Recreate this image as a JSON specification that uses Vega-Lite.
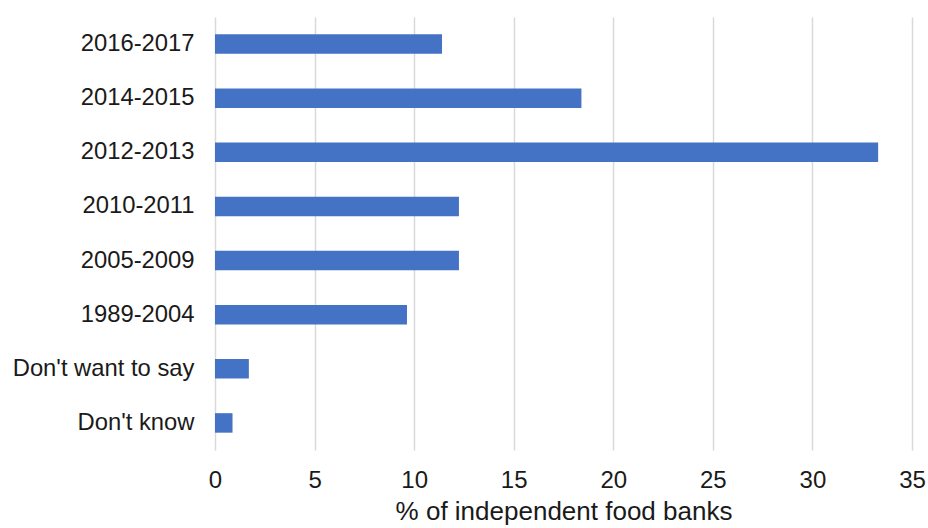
{
  "$schema": "https://vega.github.io/schema/vega-lite/v6.json",
  "width": 697,
  "height": 433,
  "autosize": {"type": "none"},
  "padding": {"left": 215, "top": 17, "right": 16, "bottom": 78},
  "background": "white",
  "config": {"view": {"stroke": null}, "font": "Arial"},
  "data": {
    "values": [
      {"period": "2016-2017", "pct": 11.4},
      {"period": "2014-2015", "pct": 18.4},
      {"period": "2012-2013", "pct": 33.3},
      {"period": "2010-2011", "pct": 12.25},
      {"period": "2005-2009", "pct": 12.25},
      {"period": "1989-2004", "pct": 9.64},
      {"period": "Don't want to say", "pct": 1.7},
      {"period": "Don't know", "pct": 0.88}
    ]
  },
  "mark": {"type": "bar", "color": "#4472C4"},
  "encoding": {
    "y": {
      "field": "period",
      "type": "nominal",
      "sort": null,
      "scale": {"paddingInner": 0.64, "paddingOuter": 0.32},
      "axis": {
        "title": null,
        "domain": false,
        "ticks": false,
        "labelFontSize": 23.8,
        "labelLimit": 300,
        "labelColor": "#1a1a1a",
        "labelPadding": 21,
        "labelFont": "Arial"
      }
    },
    "x": {
      "field": "pct",
      "type": "quantitative",
      "scale": {"domain": [0, 35], "nice": false},
      "axis": {
        "title": "% of independent food banks",
        "titleFontSize": 26,
        "titleFontWeight": "normal",
        "titleColor": "#1a1a1a",
        "titlePadding": 6,
        "titleFont": "Arial",
        "values": [0, 5, 10, 15, 20, 25, 30, 35],
        "domain": false,
        "ticks": false,
        "labelFlush": false,
        "labelFontSize": 24,
        "labelColor": "#1a1a1a",
        "labelPadding": 18,
        "labelFont": "Arial",
        "grid": true,
        "gridColor": "#d9d9d9",
        "gridWidth": 1.5
      }
    }
  }
}
